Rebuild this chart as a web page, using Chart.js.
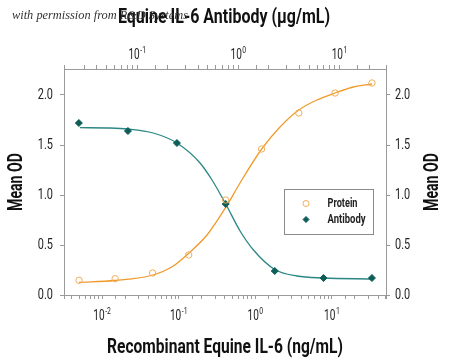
<!DOCTYPE html>
<html>
<head>
<meta charset="utf-8">
<script src="https://cdn.jsdelivr.net/npm/chart.js@4.4.1/dist/chart.umd.min.js"></script>
<style>
  html, body { margin: 0; padding: 0; background: #fff; }
  #wrap { position: relative; width: 450px; height: 362px; }
</style>
</head>
<body>
<div id="wrap"><canvas id="c" width="450" height="362"></canvas></div>
<script>
// ---- Data ----
const proteinConc = [0.005, 0.0148, 0.0456, 0.135, 0.41, 1.21, 3.69, 11.0, 33.3];      // ng/mL
const proteinOD   = [0.147, 0.163, 0.22, 0.40, 0.95, 1.46, 1.82, 2.02, 2.12];
const proteinFitConc = [0.005, 0.0147, 0.046, 0.085, 0.136, 0.234, 0.414, 0.631, 1.21, 2.10, 3.69, 6.36, 11.0, 19.1, 33.3];
const proteinFitOD   = [0.127, 0.145, 0.20, 0.29, 0.42, 0.60, 0.88, 1.12, 1.46, 1.68, 1.85, 1.95, 2.02, 2.08, 2.11];

const antibodyConc = [0.0265, 0.081, 0.247, 0.75, 2.29, 6.95, 20.9];                   // ug/mL
const antibodyOD   = [1.72, 1.64, 1.52, 0.91, 0.24, 0.17, 0.17];
const antibodyFitConc = [0.0271, 0.0537, 0.0809, 0.144, 0.247, 0.418, 0.549, 0.75, 1.04, 1.41, 2.29, 3.79, 6.95, 20.9];
const antibodyFitOD   = [1.673, 1.67, 1.66, 1.62, 1.52, 1.32, 1.15, 0.91, 0.64, 0.45, 0.255, 0.19, 0.17, 0.16];

const yTicks = [0.0, 0.5, 1.0, 1.5, 2.0];
const seriesLabels = ['Protein', 'Antibody'];
const bottomTitle = 'Recombinant Equine IL-6 (ng/mL)';
const topTitle = 'Equine IL-6 Antibody (\u03BCg/mL)';
const yTitle = 'Mean OD';
const watermark = 'with permission from R&D Systems';

// ---- styling ----
const ORANGE_LINE = '#EF9B2C';
const ORANGE_PT = '#F2AD58';
const TEAL_LINE = '#2A8784';
const TEAL_PT = '#0D5E57';
const AXIS = '#9a9a9a';
const FONT = 'Roboto, "DejaVu Sans", sans-serif';

const zip = (xs, ys) => xs.map((x, i) => ({x, y: ys[i]}));
const isDecade = (v) => { const e = Math.log10(v); return Math.abs(e - Math.round(e)) < 1e-6; };

const gridOpts = { display: true, drawOnChartArea: false, drawTicks: true, tickLength: 4, color: AXIS, tickColor: AXIS };
const logAxis = (pos, min, max) => ({
  type: 'logarithmic', position: pos, min, max,
  border: { display: true, color: AXIS, width: 1 },
  grid: gridOpts,
  ticks: { display: false, autoSkip: false },
  afterFit: (s) => { s.height = pos === 'top' ? 69 : 67; }
});
const linAxis = (pos) => ({
  type: 'linear', position: pos, min: 0, max: 2.26,
  border: { display: true, color: AXIS, width: 1 },
  grid: gridOpts,
  afterBuildTicks: (s) => { s.ticks = yTicks.map(v => ({value: v})); },
  ticks: { display: false },
  afterFit: (s) => { s.width = 64; }
});

// draw horizontally condensed text (the reference uses a condensed face)
function cText(ctx, text, x, y, o) {
  ctx.save();
  ctx.font = o.font;
  ctx.fillStyle = o.color || '#111';
  ctx.textAlign = o.align || 'center';
  ctx.textBaseline = o.baseline || 'middle';
  ctx.translate(x, y);
  if (o.rotate) ctx.rotate(o.rotate);
  let sx = o.sx || 1;
  if (o.width) sx = o.width / ctx.measureText(text).width;
  ctx.scale(sx, 1);
  ctx.fillText(text, 0, 0);
  ctx.restore();
}

function powerLabel(ctx, exp, cx, cy) {
  const SX = 0.72;
  ctx.save();
  ctx.font = '14px ' + FONT;
  const wBase = ctx.measureText('10').width * SX;
  ctx.font = '9.5px ' + FONT;
  const supTxt = (exp < 0 ? '-' : '') + Math.abs(exp);
  const wSup = ctx.measureText(supTxt).width * SX;
  ctx.restore();
  const left = cx - (wBase + wSup + 0.5) / 2;
  cText(ctx, '10', left, cy, { font: '14px ' + FONT, align: 'left', sx: SX, color: '#222' });
  cText(ctx, supTxt, left + wBase + 0.5, cy - 4.5, { font: '9.5px ' + FONT, align: 'left', sx: SX, color: '#222' });
}

const overlay = {
  id: 'overlay',
  afterDraw(chart) {
    const ctx = chart.ctx;
    const area = chart.chartArea;
    const {x, x2, y} = chart.scales;

    // tick labels
    x.ticks.filter(t => isDecade(t.value)).forEach(t =>
      powerLabel(ctx, Math.round(Math.log10(t.value)), x.getPixelForValue(t.value), area.bottom + 21.5));
    x2.ticks.filter(t => isDecade(t.value)).forEach(t =>
      powerLabel(ctx, Math.round(Math.log10(t.value)), x2.getPixelForValue(t.value), area.top - 13.5));
    y.ticks.forEach(t => {
      const py = y.getPixelForValue(t.value);
      cText(ctx, t.value.toFixed(1), area.left - 11, py, { font: '14px ' + FONT, align: 'right', sx: 0.78, color: '#222' });
      cText(ctx, t.value.toFixed(1), area.right + 9, py, { font: '14px ' + FONT, align: 'left', sx: 0.78, color: '#222' });
    });

    // axis titles
    const bold = 'bold 21px ' + FONT;
    cText(ctx, topTitle, (area.left + area.right) / 2 - 1, 18, { font: bold, width: 212, color: '#111' });
    cText(ctx, bottomTitle, (area.left + area.right) / 2, 348, { font: bold, width: 236, color: '#111' });
    const midY = (area.top + area.bottom) / 2;
    cText(ctx, yTitle, 17, midY, { font: bold, width: 58, rotate: -Math.PI / 2, color: '#111' });
    cText(ctx, yTitle, 433, midY, { font: bold, width: 58, rotate: -Math.PI / 2, color: '#111' });

    // legend box
    ctx.save();
    const lx = area.left + 220.5, ly = area.top + 120.5, lw = 89, lh = 45;
    ctx.fillStyle = '#fff';
    ctx.fillRect(lx, ly, lw, lh);
    ctx.strokeStyle = '#8a8a8a';
    ctx.lineWidth = 1;
    ctx.strokeRect(lx, ly, lw, lh);
    const items = [
      { text: seriesLabels[0], style: 'circle', fill: 'rgba(255,255,255,0)', stroke: ORANGE_PT, y: ly + 14, w: 30 },
      { text: seriesLabels[1], style: 'rectRot', fill: TEAL_PT, stroke: TEAL_PT, y: ly + 30, w: 38 }
    ];
    items.forEach(it => {
      ctx.fillStyle = it.fill; ctx.strokeStyle = it.stroke; ctx.lineWidth = 1;
      Chart.helpers.drawPoint(ctx, { pointStyle: it.style, radius: 3, rotation: 0, borderWidth: 1 }, lx + 21.5, it.y);
      cText(ctx, it.text, lx + 43, it.y, { font: 'bold 12.5px ' + FONT, align: 'left', width: it.w, color: '#222' });
    });
    ctx.restore();

    // watermark
    cText(ctx, watermark, 12, 16, { font: 'italic 12px "Liberation Serif", "DejaVu Serif", serif', align: 'left', width: 176, color: '#333' });
  }
};

new Chart(document.getElementById('c'), {
  type: 'scatter',
  data: {
    datasets: [
      { label: seriesLabels[0], data: zip(proteinConc, proteinOD), xAxisID: 'x', yAxisID: 'y',
        pointStyle: 'circle', pointRadius: 3.2, borderWidth: 1, borderColor: ORANGE_PT,
        backgroundColor: 'rgba(255,255,255,0)', showLine: false, order: 0 },
      { label: seriesLabels[1], data: zip(antibodyConc, antibodyOD), xAxisID: 'x2', yAxisID: 'y',
        pointStyle: 'rectRot', pointRadius: 3.5, borderWidth: 1, borderColor: TEAL_PT,
        backgroundColor: TEAL_PT, showLine: false, order: 0 },
      { label: 'protein fit', type: 'line', data: zip(proteinFitConc, proteinFitOD), xAxisID: 'x', yAxisID: 'y',
        borderColor: ORANGE_LINE, borderWidth: 1.3, pointRadius: 0, fill: false,
        cubicInterpolationMode: 'monotone', order: 1 },
      { label: 'antibody fit', type: 'line', data: zip(antibodyFitConc, antibodyFitOD), xAxisID: 'x2', yAxisID: 'y',
        borderColor: TEAL_LINE, borderWidth: 1.3, pointRadius: 0, fill: false,
        cubicInterpolationMode: 'monotone', order: 1 }
    ]
  },
  options: {
    responsive: false, animation: false,
    layout: { padding: 0 },
    plugins: { legend: { display: false }, tooltip: { enabled: false } },
    scales: {
      x: logAxis('bottom', 0.00318, 50.8),
      x2: logAxis('top', 0.0189, 28.8),
      y: linAxis('left'),
      y2: linAxis('right')
    }
  },
  plugins: [overlay]
});
</script>
</body>
</html>
